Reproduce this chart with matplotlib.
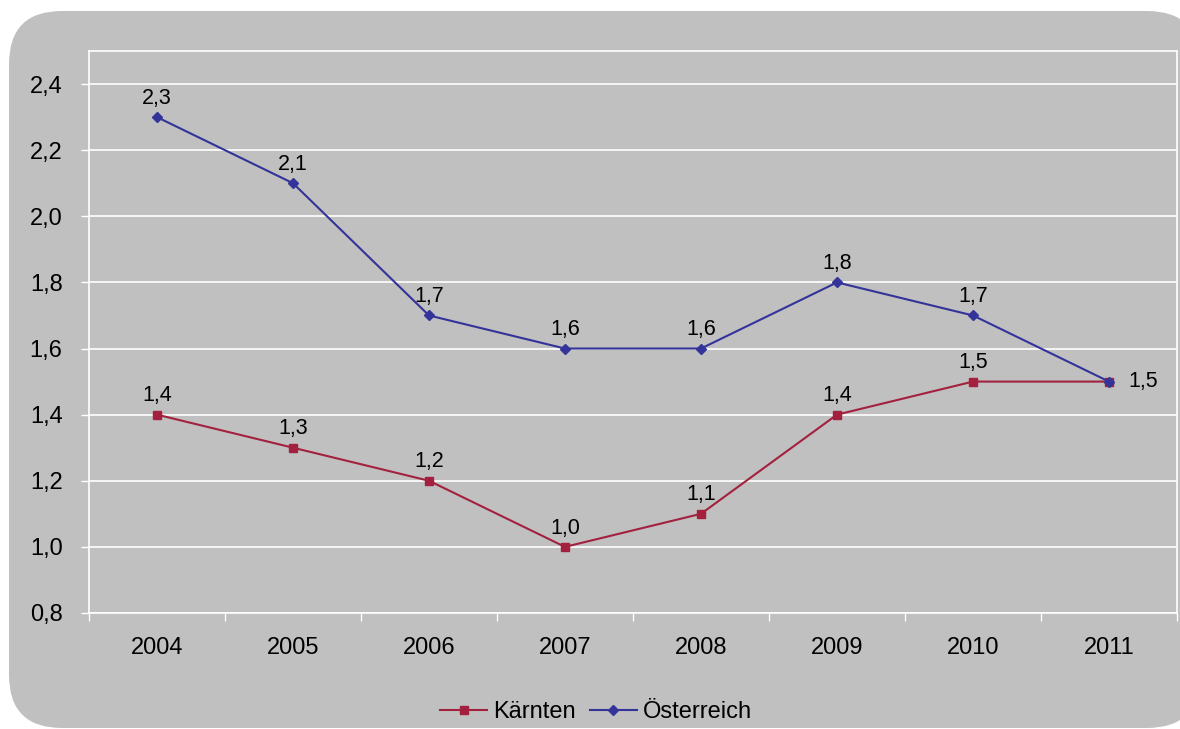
import matplotlib.pyplot as plt
import numpy as np
from matplotlib.patches import FancyBboxPatch

plt.rcParams['font.family'] = ['Liberation Sans', 'DejaVu Sans']

years = ["2004", "2005", "2006", "2007", "2008", "2009", "2010", "2011"]
kaernten = [1.4, 1.3, 1.2, 1.0, 1.1, 1.4, 1.5, 1.5]
oesterreich = [2.3, 2.1, 1.7, 1.6, 1.6, 1.8, 1.7, 1.5]
yticks = [0.8, 1.0, 1.2, 1.4, 1.6, 1.8, 2.0, 2.2, 2.4]

W, H = 1180, 729
fig = plt.figure(figsize=(W / 100, H / 100), dpi=100)
fig.patch.set_facecolor("white")

# rounded grey background panel
bg = FancyBboxPatch((9 / W, 1 - 728 / H), (1200 - 9) / W, (728 - 11) / H,
                    boxstyle="round,pad=0,rounding_size=0.045",
                    transform=fig.transFigure, fc="#c0c0c0", ec="none",
                    mutation_aspect=W / H, zorder=-5)
fig.patches.append(bg)

ax = fig.add_axes([89 / W, 1 - 613 / H, (1177 - 89) / W, (613 - 51) / H])
ax.set_zorder(2)
ax.set_facecolor("#c0c0c0")
x = np.arange(len(years))

red = "#a3213f"
blue = "#333399"
ax.plot(x, kaernten, color=red, lw=1.5, marker="s", ms=6, label="Kärnten", zorder=3)
ax.plot(x, oesterreich, color=blue, lw=1.5, marker="D", ms=5.5, label="Österreich", zorder=4)

ax.set_xlim(-0.5, len(years) - 0.5)
ax.set_ylim(0.8, 2.5)
ax.set_yticks(yticks)
ax.set_yticklabels([f"{v:.1f}".replace(".", ",") for v in yticks], fontsize=17)
ax.set_xticks(x)
ax.set_xticklabels(years, fontsize=17)
ax.set_xticks(np.arange(len(years) + 1) - 0.5, minor=True)
ax.tick_params(axis="x", which="major", length=0, pad=17)
ax.tick_params(axis="x", which="minor", length=6, color="white", width=1)
ax.tick_params(axis="y", length=6, color="white", width=1, pad=13)
ax.grid(axis="y", color="white", lw=1.2)
ax.set_axisbelow(True)
for s in ax.spines.values():
    s.set_color("white")
    s.set_linewidth(1.2)

def lab(v):
    return f"{v:.1f}".replace(".", ",")

for i in range(len(years) - 1):
    ax.annotate(lab(kaernten[i]), (x[i], kaernten[i]), xytext=(0, 6),
                textcoords="offset points", ha="center", va="bottom", fontsize=15.5)
    ax.annotate(lab(oesterreich[i]), (x[i], oesterreich[i]), xytext=(0, 6),
                textcoords="offset points", ha="center", va="bottom", fontsize=15.5)
ax.annotate(lab(kaernten[-1]), (x[-1], kaernten[-1]), xytext=(14, 0),
            textcoords="offset points", ha="left", va="center", fontsize=15.5)

fig.legend(loc="center", bbox_to_anchor=(596 / W, 1 - 712 / H), ncol=2,
           frameon=False, fontsize=17, handlelength=2.0, columnspacing=0.6,
           handletextpad=0.25)

fig.savefig("out.png", dpi=100)
